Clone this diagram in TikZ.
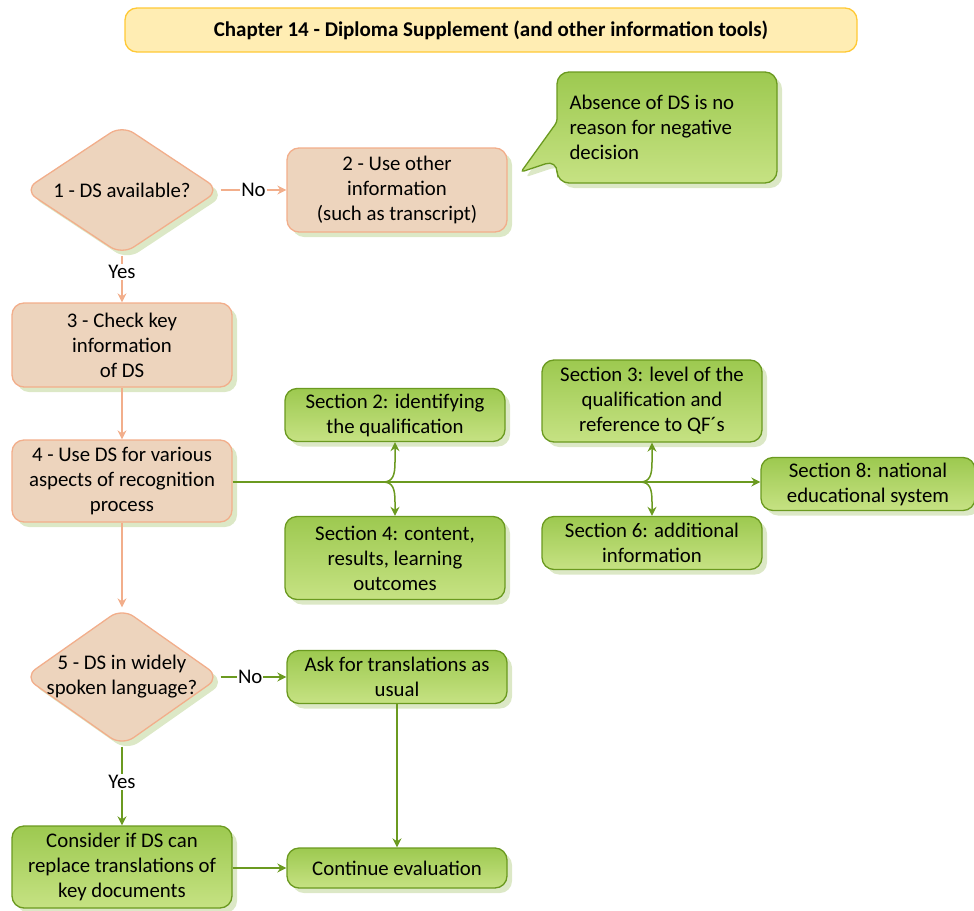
\documentclass[tikz,border=0pt]{standalone}
\usepackage{fontspec}
\setmainfont{Carlito}
\usetikzlibrary{shapes.geometric,shadows,arrows.meta}
\definecolor{peachfill}{HTML}{EDD4BD}
\definecolor{peachline}{HTML}{F2AE8B}
\definecolor{gtop}{HTML}{9DC950}
\definecolor{gbot}{HTML}{C6E283}
\definecolor{gline}{HTML}{6B9A20}
\definecolor{shadowc}{HTML}{DCE8C6}
\definecolor{titlefill}{HTML}{FFEDB3}
\definecolor{titleline}{HTML}{FFC936}
\begin{document}
\begin{tikzpicture}[x=1pt,y=-1pt, font=\fontsize{20.8}{25}\selectfont,
  shad/.style={drop shadow={shadow xshift=5pt,shadow yshift=-5pt,fill=shadowc,opacity=1}},
  pbox/.style={shad, draw=peachline, line width=1.3pt, fill=peachfill, rounded corners=12pt, align=center, inner sep=0pt},
  gbox/.style={shad, draw=gline, line width=1.3pt, top color=gtop, bottom color=gbot, rounded corners=12pt, align=center, inner sep=0pt},
  pdia/.style={shad, diamond, draw=peachline, line width=1.3pt, fill=peachfill, rounded corners=14pt, inner sep=0pt},
  parrow/.style={draw=peachline, line width=1.3pt, -{Stealth[length=9pt,width=9pt]}},
  garrow/.style={draw=gline, line width=1.5pt, -{Stealth[length=9pt,width=9pt]}},
  lbl/.style={fill=white, inner sep=1pt}
]
\useasboundingbox (0,0) rectangle (974,910);

% title
\node[draw=titleline, line width=1.3pt, fill=titlefill, rounded corners=12pt,
      minimum width=732pt, minimum height=44pt, inner sep=0pt] (title) at (491,30)
      {\fontsize{21}{25}\selectfont\bfseries Chapter 14 - Diploma Supplement (and other information tools)};

% top part
\node[pdia, minimum width=196pt, minimum height=130pt] (d1) at (122,190) {};
\node[align=center] (d1t) at (122,190) {1 - DS available?};
\node[pbox, minimum width=220pt, minimum height=84pt] (b2) at (397,190)
  {2 - Use other\\information\\(such as transcript)};

% callout
\path[shad, draw=gline, line width=1.3pt, top color=gtop, bottom color=gbot, rounded corners=12pt]
  (557,122) -- (557,72) -- (777,72) -- (777,183) -- (557,183) -- (557,160)
  [rounded corners=3pt] -- (521,172) -- cycle;
\node[align=left, anchor=west] (note) at (566,127)
  {Absence of DS is no\\reason for negative\\decision};

\node[pbox, minimum width=220pt, minimum height=84pt] (b3) at (122,345)
  {3 - Check key\\information\\of DS};
\node[pbox, minimum width=220pt, minimum height=82pt] (b4) at (122,481)
  {4 - Use DS for various\\aspects of recognition\\process};

% sections
\node[gbox, minimum width=220pt, minimum height=53pt] (s2) at (395,415)
  {Section 2: identifying\\the qualification};
\node[gbox, minimum width=220pt, minimum height=83pt] (s4) at (395,558)
  {Section 4: content,\\results, learning\\outcomes};
\node[gbox, minimum width=220pt, minimum height=82pt] (s3) at (652,401)
  {Section 3: level of the\\qualification and\\reference to QF´s};
\node[gbox, minimum width=220pt, minimum height=53pt] (s6) at (652,543)
  {Section 6: additional\\information};
\node[gbox, minimum width=214pt, minimum height=53pt] (s8) at (868,484)
  {Section 8: national\\educational system};

% lower part
\node[pdia, minimum width=196pt, minimum height=138pt] (d5) at (122,677) {};
\node[align=center] (d5t) at (122,677) {5 - DS in widely\\spoken language?};
\node[gbox, minimum width=220pt, minimum height=53pt] (ask) at (397,677)
  {Ask for translations as\\usual};
\node[gbox, minimum width=220pt, minimum height=82pt] (cons) at (122,867)
  {Consider if DS can\\replace translations of\\key documents};
\node[gbox, minimum width=220pt, minimum height=40pt] (cont) at (397,868)
  {Continue evaluation};

% connectors
\draw[parrow] (d1.east) -- node[lbl, pos=0.5]{No} (b2.west);
\draw[parrow] (d1.south) -- node[lbl, pos=0.35]{Yes} (b3.north);
\draw[parrow] (b3.south) -- (b4.north);
\draw[parrow] (b4.south) -- (d5.north);

\draw[garrow, line width=2pt] (b4.east |- 0,482) -- (s8.west |- 0,482);
\coordinate (j2) at (383,482);
\coordinate (j3) at (640,482);
\draw[garrow] (j2) .. controls (393,482) and (395,475) .. (395,462) -- (s2.south);
\draw[garrow] (j2) .. controls (393,482) and (395,489) .. (395,502) -- (s4.north);
\draw[garrow] (j3) .. controls (650,482) and (652,475) .. (652,462) -- (s3.south);
\draw[garrow] (j3) .. controls (650,482) and (652,489) .. (652,502) -- (s6.north);

\draw[garrow] (d5.east) -- node[lbl, pos=0.45]{No} (ask.west);
\draw[garrow] (d5.south) -- node[lbl, pos=0.45]{Yes} (cons.north);
\draw[garrow] (cons.east |- cont.west) -- (cont.west);
\draw[garrow] (ask.south) -- (cont.north);
\end{tikzpicture}
\end{document}
